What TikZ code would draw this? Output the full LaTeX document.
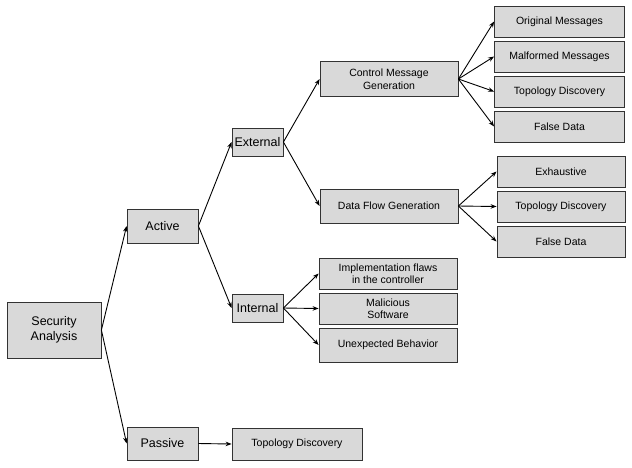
\documentclass[tikz,border=0pt]{standalone}
\usepackage{fontspec}
\setmainfont{Liberation Sans}
\usepackage{tikz}
\usetikzlibrary{arrows.meta}
\tikzstyle{box} = [rectangle, draw=black!80, fill=black!15, line width=0.8pt, inner sep=0pt, align=center, text centered, font=\fontsize{10.5}{12.5}\selectfont]
\tikzstyle{bigbox} = [box, font=\fontsize{12.5}{14.5}\selectfont]
\tikzstyle{leaf} = [box, minimum width=130pt, minimum height=31pt]
\tikzstyle{arrow} = [line width=0.9pt,->,>={Stealth[length=6pt,width=4.5pt]}]

\begin{document}
\begin{tikzpicture}[x=1pt,y=-1pt,node distance=35pt]
\useasboundingbox (0,0) rectangle (632,467);

\node (sa) [bigbox, minimum width=94pt, minimum height=56pt] at (54,330) {Security\\Analysis};
\node (active) [bigbox, minimum width=71pt, minimum height=34pt] at (162.5,226) {Active};
\node (passive) [bigbox, minimum width=71pt, minimum height=33pt] at (162.5,443.5) {Passive};
\node (ext) [bigbox, minimum width=51pt, minimum height=28pt] at (257.5,142) {External};
\node (int) [bigbox, minimum width=51pt, minimum height=28pt] at (257.5,308) {Internal};

\node (cmg) [box, minimum width=138pt, minimum height=35pt] at (389,79) {Control Message\\Generation};
\node (dfg) [box, minimum width=138pt, minimum height=34pt] at (389,206) {Data Flow Generation};

\node (orig) [leaf] at (559.5,21.5) {Original Messages};
\node (malf) [leaf, below of=orig] {Malformed Messages};
\node (topo1) [leaf, below of=malf] {Topology Discovery};
\node (false1) [leaf, below of=topo1] {False Data};

\node (exh) [leaf, minimum width=128pt] at (561,171.5) {Exhaustive};
\node (topo2) [leaf, minimum width=128pt, below of=exh] {Topology Discovery};
\node (false2) [leaf, minimum width=128pt, below of=topo2] {False Data};

\node (impl) [leaf, minimum width=138pt] at (388,273.5) {Implementation flaws\\in the controller};
\node (mal) [leaf, minimum width=138pt, below of=impl] {Malicious\\Software};
\node (unexp) [leaf, minimum width=138pt, minimum height=34pt, below of=mal, node distance=36.5pt] {Unexpected Behavior};

\node (topo3) [leaf, minimum height=32pt] at (297,444) {Topology Discovery};

\draw [arrow] (sa.east) -- (active.west);
\draw [arrow] (sa.east) -- (passive.west);
\draw [arrow] (active.east) -- (ext.west);
\draw [arrow] (active.east) -- (int.west);
\draw [arrow] (passive.east) -- (topo3.west);
\draw [arrow] (ext.east) -- (cmg.west);
\draw [arrow] (ext.east) -- (dfg.west);
\draw [arrow] (cmg.east) -- (orig.west);
\draw [arrow] (cmg.east) -- (malf.west);
\draw [arrow] (cmg.east) -- (topo1.west);
\draw [arrow] (cmg.east) -- (false1.west);
\draw [arrow] (dfg.east) -- (exh.west);
\draw [arrow] (dfg.east) -- (topo2.west);
\draw [arrow] (dfg.east) -- (false2.west);
\draw [arrow] (int.east) -- (impl.west);
\draw [arrow] (int.east) -- (mal.west);
\draw [arrow] (int.east) -- (unexp.west);

\end{tikzpicture}
\end{document}
